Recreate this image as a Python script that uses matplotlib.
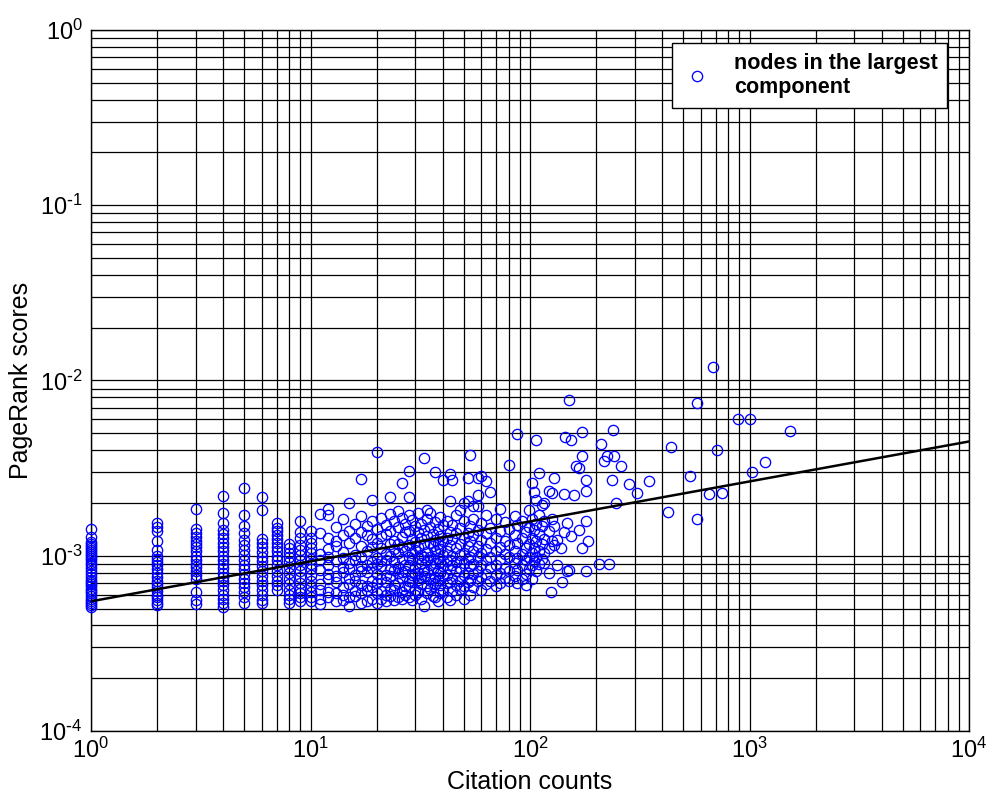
import numpy as np
import matplotlib
matplotlib.use("Agg")
import matplotlib.pyplot as plt
from matplotlib.ticker import LogLocator, NullFormatter, FuncFormatter

plt.rcParams['font.family'] = ['Liberation Sans', 'DejaVu Sans']
plt.rcParams['mathtext.default'] = 'regular'

# ---- data: PageRank score (in units of 1e-3) per citation count ----
low_counts = [1, 2, 3, 4, 5, 6, 7, 8, 9, 10]
low_scores = [
    [1.43, 1.28, 1.20, 1.17, 1.14, 1.11, 1.08, 1.05, 1.02, 1.00, 0.97, 0.94, 0.91, 0.88, 0.85, 0.82,
     0.79, 0.76, 0.73, 0.71, 0.69, 0.67, 0.65, 0.63, 0.61, 0.59, 0.57, 0.555, 0.54, 0.525, 0.51],
    [1.54, 1.45, 1.38, 1.22, 1.08, 1.00, 0.96, 0.92, 0.88, 0.84, 0.80, 0.76, 0.72, 0.69, 0.66, 0.63,
     0.60, 0.58, 0.56, 0.54, 0.525],
    [1.85, 1.42, 1.35, 1.28, 1.22, 1.17, 1.12, 1.06, 1.00, 0.95, 0.90, 0.86, 0.82, 0.78, 0.74, 0.62,
     0.56, 0.53],
    [2.18, 1.76, 1.54, 1.41, 1.33, 1.26, 1.19, 1.12, 1.06, 1.00, 0.95, 0.90, 0.85, 0.80, 0.76, 0.72,
     0.68, 0.64, 0.60, 0.57, 0.54, 0.51],
    [2.45, 1.71, 1.47, 1.35, 1.23, 1.15, 1.08, 1.01, 0.95, 0.89, 0.84, 0.79, 0.74, 0.70, 0.66, 0.62,
     0.58, 0.54],
    [2.16, 1.83, 1.25, 1.19, 1.12, 1.05, 0.99, 0.93, 0.87, 0.82, 0.77, 0.72, 0.68, 0.64, 0.60, 0.56,
     0.54],
    [1.54, 1.44, 1.38, 1.31, 1.25, 1.18, 1.12, 1.06, 1.00, 0.94, 0.88, 0.82, 0.77, 0.72, 0.68, 0.64],
    [1.16, 1.10, 1.04, 0.98, 0.92, 0.86, 0.80, 0.74, 0.69, 0.64, 0.60, 0.57, 0.54],
    [1.57, 1.37, 1.27, 1.15, 1.08, 1.01, 0.94, 0.88, 0.82, 0.76, 0.70, 0.65, 0.61, 0.58, 0.555],
    [1.38, 1.27, 1.18, 1.10, 1.03, 0.96, 0.90, 0.84, 0.78, 0.72, 0.67, 0.62, 0.58, 0.55],
]

mid_counts = [11, 12, 13, 14, 15, 16, 17, 18, 19, 20, 21, 22, 23, 24, 25, 26, 27, 28, 29, 30,
              31, 32, 33, 34, 35, 36, 37, 38, 39, 40, 42, 43, 44, 46, 48, 50, 52, 53, 55, 58,
              60, 63, 66, 70, 73, 77, 80, 85, 87, 92, 96, 99, 102, 104, 106, 110, 113, 116]
mid_scores = [
    [1.72, 1.34, 1.02, 0.95, 0.83, 0.69, 0.64, 0.57, 0.53],
    [1.84, 1.71, 1.27, 1.09, 0.99, 0.88, 0.79, 0.74, 0.62, 0.58],
    [1.45, 1.21, 1.13, 0.93, 0.77, 0.71, 0.61, 0.55],
    [1.63, 1.31, 1.05, 0.97, 0.86, 0.81, 0.66, 0.60, 0.56],
    [2.01, 1.39, 1.18, 0.91, 0.84, 0.75, 0.69, 0.58, 0.52],
    [1.52, 1.26, 1.01, 0.94, 0.78, 0.72, 0.63, 0.59],
    [2.74, 1.68, 1.36, 1.14, 0.99, 0.87, 0.82, 0.68, 0.61, 0.54],
    [1.47, 1.31, 1.06, 0.89, 0.81, 0.67, 0.64, 0.55],
    [2.07, 1.57, 1.24, 1.12, 0.92, 0.85, 0.72, 0.66, 0.57],
    [3.92, 1.42, 1.19, 0.97, 0.90, 0.79, 0.70, 0.61, 0.54],
    [1.65, 1.29, 1.11, 0.93, 0.87, 0.74, 0.63, 0.57],
    [1.49, 1.33, 1.02, 0.95, 0.78, 0.71, 0.60, 0.55],
    [2.15, 1.72, 1.38, 1.16, 1.00, 0.84, 0.77, 0.65, 0.59],
    [1.58, 1.22, 1.09, 0.92, 0.83, 0.68, 0.64, 0.56],
    [1.80, 1.45, 1.17, 1.04, 0.86, 0.80, 0.70, 0.58],
    [2.60, 1.64, 1.28, 1.12, 0.96, 0.81, 0.75, 0.62, 0.57],
    [1.52, 1.36, 1.07, 0.89, 0.82, 0.67, 0.60],
    [3.06, 2.15, 1.70, 1.39, 1.15, 0.99, 0.88, 0.72, 0.66, 0.58],
    [1.59, 1.25, 1.03, 0.94, 0.78, 0.71, 0.56],
    [1.48, 1.20, 1.08, 0.86, 0.79, 0.64, 0.60],
    [1.75, 1.37, 1.12, 0.97, 0.80, 0.73, 0.62],
    [1.51, 1.27, 1.01, 0.91, 0.76, 0.69, 0.57],
    [3.60, 1.41, 1.16, 0.99, 0.83, 0.77, 0.52],
    [1.83, 1.62, 1.30, 1.05, 0.94, 0.81, 0.67, 0.61],
    [1.75, 1.46, 1.19, 0.98, 0.89, 0.74, 0.65],
    [1.33, 1.14, 0.96, 0.84, 0.70, 0.59],
    [3.00, 1.55, 1.23, 1.06, 0.91, 0.76, 0.69, 0.58],
    [1.42, 1.17, 0.97, 0.82, 0.73, 0.55],
    [1.66, 1.29, 1.09, 0.92, 0.80, 0.68, 0.61],
    [2.69, 1.49, 1.21, 1.01, 0.87, 0.77, 0.64],
    [1.58, 1.26, 1.07, 0.93, 0.78, 0.70, 0.58],
    [2.93, 2.04, 1.37, 1.15, 0.95, 0.84, 0.71, 0.56],
    [2.69, 1.50, 1.24, 1.00, 0.89, 0.74, 0.63],
    [1.70, 1.34, 1.11, 0.92, 0.82, 0.68, 0.60],
    [1.83, 1.44, 1.16, 1.01, 0.85, 0.72, 0.65],
    [2.00, 1.57, 1.27, 1.04, 0.91, 0.78, 0.67, 0.57],
    [2.78, 2.04, 1.35, 1.13, 0.96, 0.80, 0.71],
    [3.77, 1.48, 1.21, 0.99, 0.87, 0.73, 0.60],
    [1.91, 1.63, 1.31, 1.06, 0.90, 0.79, 0.66],
    [2.78, 2.21, 1.91, 1.41, 1.14, 0.98, 0.82, 0.72],
    [2.86, 1.53, 1.23, 1.04, 0.88, 0.76, 0.64],
    [2.66, 1.71, 1.34, 1.09, 0.94, 0.79, 0.69],
    [2.31, 1.44, 1.19, 0.98, 0.86, 0.72],
    [1.63, 1.27, 1.07, 0.89, 0.78, 0.67],
    [1.85, 1.39, 1.12, 0.96, 0.80, 0.70],
    [1.56, 1.21, 1.02, 0.85, 0.75],
    [3.30, 1.43, 1.15, 0.99, 0.82, 0.72],
    [1.68, 1.31, 1.06, 0.91, 0.77],
    [4.95, 1.49, 1.19, 0.97, 0.83, 0.70],
    [1.58, 1.26, 1.02, 0.88, 0.74],
    [1.36, 1.11, 0.95, 0.79, 0.68],
    [1.83, 1.46, 1.17, 0.99, 0.84],
    [2.60, 1.62, 1.27, 1.03, 0.89, 0.74],
    [2.30, 1.41, 1.11, 0.93],
    [4.59, 2.07, 1.52, 1.21, 0.98, 0.82],
    [2.96, 1.70, 1.33, 1.07, 0.90],
    [1.95, 1.47, 1.16, 0.96],
    [2.00, 1.58, 1.24, 1.03, 0.91],
]

high_counts = [122, 122, 122, 122, 124, 126, 126, 126, 128, 128, 128, 133, 133, 139, 140, 143, 143,
               145, 148, 148, 150, 150, 153, 153, 158, 162, 167, 167, 172, 172, 172, 180, 180, 180,
               180, 184, 207, 211, 218, 225, 228, 237, 240, 241, 246, 260, 281, 308, 350, 427, 438,
               537, 575, 575, 654, 680, 711, 749, 888, 1001, 1025, 1176, 1535]
high_scores = [2.33, 1.38, 1.10, 0.80, 0.62, 2.28, 1.61, 1.22, 2.78, 1.48, 1.15, 1.23, 0.89, 1.10,
               0.71, 2.26, 1.36, 4.76, 1.54, 0.82, 7.70, 0.83, 4.59, 1.30, 2.21, 3.26, 3.16, 1.41,
               5.06, 3.69, 1.10, 2.69, 2.35, 1.57, 0.82, 1.22, 0.90, 4.35, 3.45, 3.72, 0.90, 2.69,
               5.24, 3.69, 2.01, 3.26, 2.56, 2.28, 2.68, 1.77, 4.15, 2.86, 7.43, 1.62, 2.25, 12.0,
               4.03, 2.28, 6.03, 6.03, 2.99, 3.41, 5.12]

# power-law fit: log10(score) = slope * log10(count) + intercept
fit_slope = 0.228
fit_intercept = -3.26

# ---- assemble ----
xs, ys = [], []
for c, col in zip(low_counts, low_scores):
    xs += [c] * len(col)
    ys += col
for c, col in zip(mid_counts, mid_scores):
    xs += [c] * len(col)
    ys += col
xs += high_counts
ys += high_scores
xs = np.array(xs, dtype=float)
ys = np.array(ys) * 1e-3

fig = plt.figure(figsize=(9.86, 7.95), dpi=100)
ax = fig.add_axes([0.0923, 0.0805, 0.8905, 0.8818])
ax.set_xscale('log')
ax.set_yscale('log')

ax.plot(xs, ys, linestyle='none', marker='o', markersize=7.4, markerfacecolor='none',
        markeredgecolor='#0000FF', markeredgewidth=0.95, label='nodes in the largest\ncomponent',
        zorder=3, clip_on=False)

xf = np.logspace(0, 4, 50)
ax.plot(xf, 10 ** np.polyval([fit_slope, fit_intercept], np.log10(xf)), color='black', lw=1.8, zorder=4)

ax.set_xlim(1, 1e4)
ax.set_ylim(1e-4, 1)


def pow_fmt(v, pos):
    e = int(round(np.log10(v)))
    s = str(abs(e))
    if e < 0:
        s = r'\text{-}' + s
    return r'$\mathregular{10^{%s}}$' % s


ax.xaxis.set_major_locator(LogLocator(base=10, numticks=10))
ax.yaxis.set_major_locator(LogLocator(base=10, numticks=10))
ax.xaxis.set_major_formatter(FuncFormatter(pow_fmt))
ax.yaxis.set_major_formatter(FuncFormatter(pow_fmt))
ax.xaxis.set_minor_locator(LogLocator(base=10, subs=np.arange(2, 10), numticks=100))
ax.yaxis.set_minor_locator(LogLocator(base=10, subs=np.arange(2, 10), numticks=100))
ax.xaxis.set_minor_formatter(NullFormatter())
ax.yaxis.set_minor_formatter(NullFormatter())
ax.grid(True, which='both', color='black', linewidth=0.9, linestyle='-', zorder=0)
ax.set_axisbelow(True)
ax.tick_params(which='both', length=0, labelsize=17)
ax.tick_params(axis='x', pad=5)
ax.tick_params(axis='y', pad=6)
for s in ax.spines.values():
    s.set_color('black')
    s.set_linewidth(1.0)

ax.set_xlabel('Citation counts', fontsize=18, labelpad=5)
ax.set_ylabel('PageRank scores', fontsize=18, labelpad=5)

leg = ax.legend(loc='upper right', bbox_to_anchor=(0.975, 0.9815), borderaxespad=0,
                frameon=True, fancybox=False, edgecolor='black', framealpha=1,
                prop={'size': 15.5, 'weight': 'bold'}, handlelength=1.4, handletextpad=1.0,
                borderpad=0.45, labelspacing=0.2)
leg.get_frame().set_linewidth(1.0)

fig.savefig('out.png', dpi=100)
